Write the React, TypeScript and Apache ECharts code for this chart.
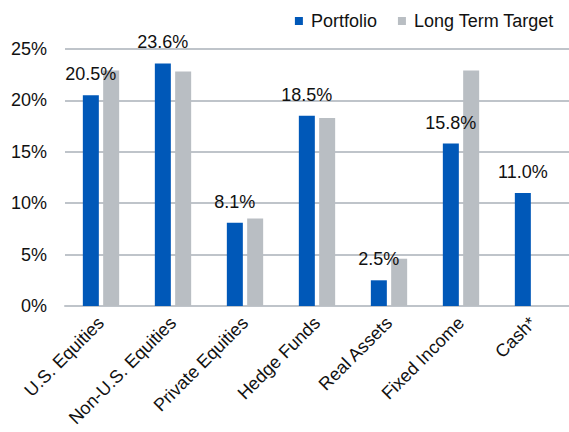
import React, { useEffect, useRef } from "react";
import * as echarts from "echarts";

const categories = [
  "U.S. Equities",
  "Non-U.S. Equities",
  "Private Equities",
  "Hedge Funds",
  "Real Assets",
  "Fixed Income",
  "Cash*",
];
const portfolio = [20.5, 23.6, 8.1, 18.5, 2.5, 15.8, 11.0];
const longTermTarget: (number | null)[] = [22.9, 22.8, 8.5, 18.3, 4.6, 22.9, null];
const yTicks = [0, 5, 10, 15, 20, 25];

export default function App() {
  const ref = useRef<HTMLDivElement>(null);
  useEffect(() => {
    document.body.style.margin = "0";
    if (!ref.current) return;
    const chart = echarts.init(ref.current, null, { renderer: "svg" });
    const font = "Liberation Sans, Arial, sans-serif";
    chart.setOption({
      animation: false,
      textStyle: { fontFamily: font },
      legend: {
        top: 7,
        right: 10,
        icon: "rect",
        itemWidth: 8,
        itemHeight: 8,
        itemGap: 21,
        textStyle: { fontSize: 18, color: "#111111", fontFamily: font, padding: [0, 0, 0, 3] },
        data: ["Portfolio", "Long Term Target"],
      },
      grid: { left: 65, right: -4, top: 49, bottom: 126, containLabel: false },
      xAxis: {
        type: "category",
        data: categories,
        axisTick: { show: false },
        axisLine: { show: true, lineStyle: { color: "#BFC4CA", width: 2 } },
        axisLabel: {
          rotate: 45,
          interval: 0,
          margin: 14,
          fontSize: 18,
          color: "#111111",
          fontFamily: font,
        },
      },
      yAxis: {
        type: "value",
        min: yTicks[0],
        max: yTicks[yTicks.length - 1],
        interval: 5,
        axisLabel: {
          formatter: "{value}%",
          fontSize: 18,
          color: "#111111",
          margin: 18,
          fontFamily: font,
        },
        axisLine: { show: false },
        axisTick: { show: false },
        splitLine: { lineStyle: { color: "#BFC4CA", width: 2 } },
      },
      series: [
        {
          name: "Portfolio",
          type: "bar",
          data: portfolio,
          barWidth: 16,
          barGap: "27%",
          itemStyle: { color: "#0058B8" },
          label: {
            show: true,
            position: "top",
            distance: 12,
            formatter: (p: any) => p.value.toFixed(1) + "%",
            fontSize: 18,
            color: "#111111",
            fontFamily: font,
          },
        },
        {
          name: "Long Term Target",
          type: "bar",
          data: longTermTarget,
          barWidth: 16,
          itemStyle: { color: "#B9BEC3" },
        },
      ],
    });
    return () => chart.dispose();
  }, []);
  return <div ref={ref} style={{ width: 569, height: 432 }} />;
}
